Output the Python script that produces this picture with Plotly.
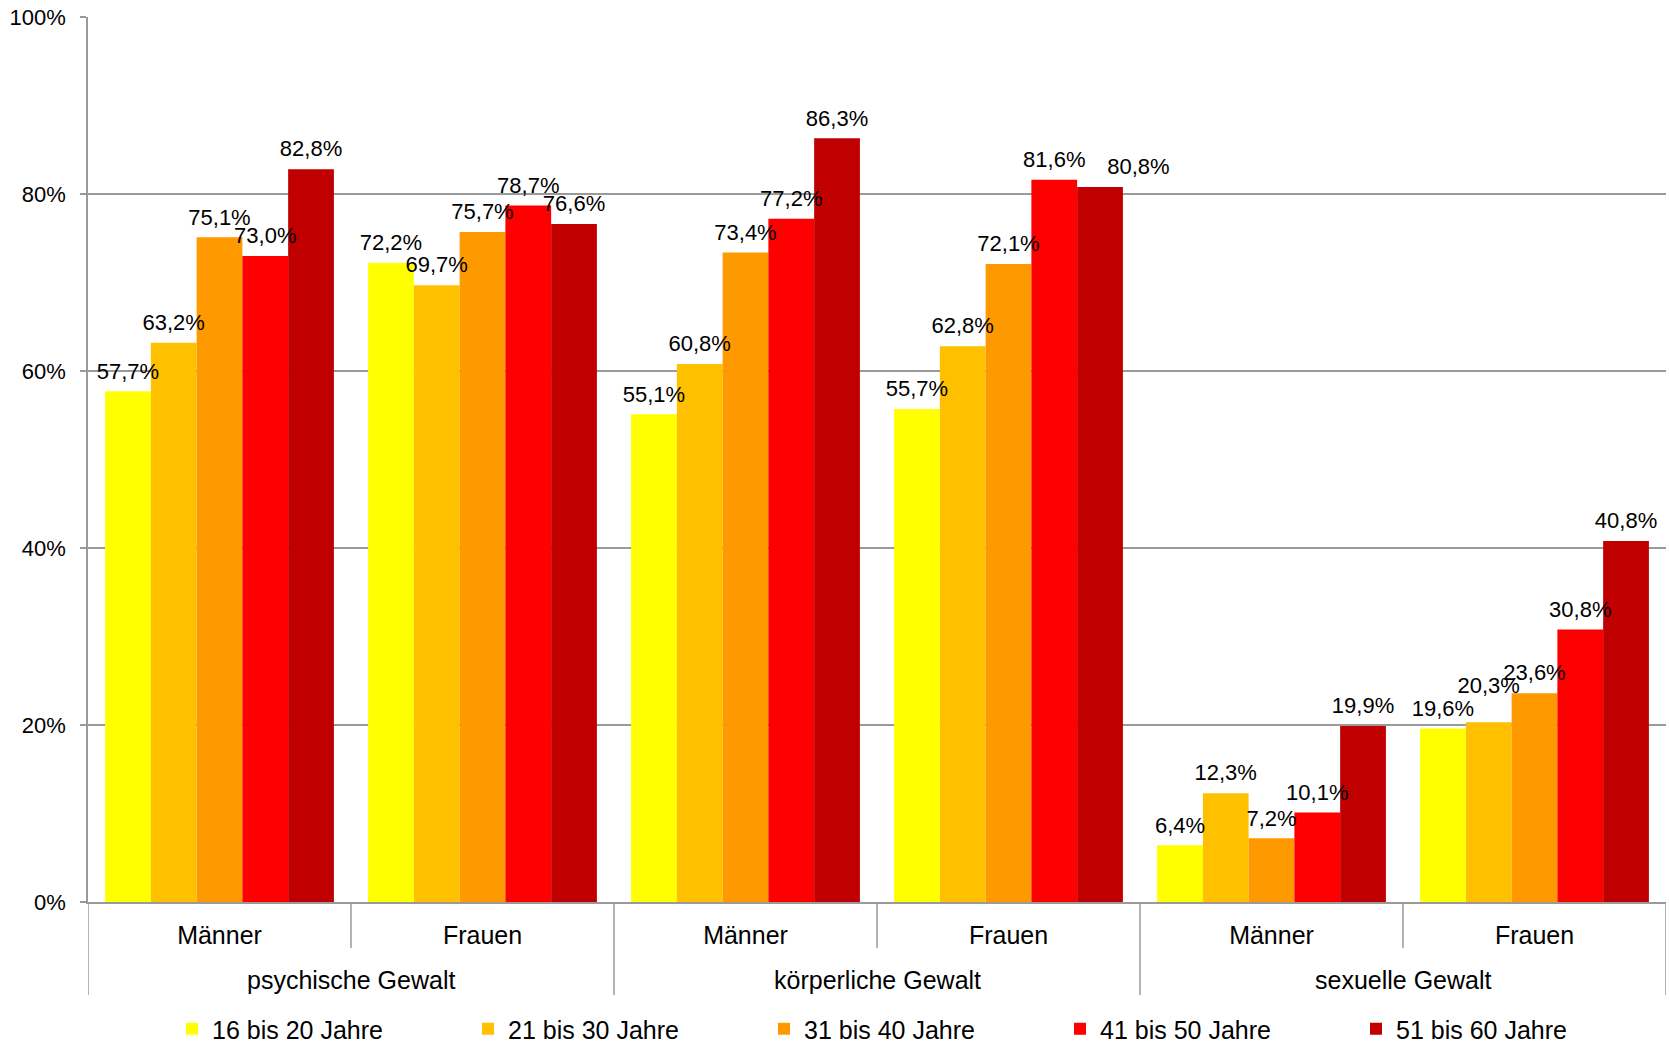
import plotly.graph_objects as go

# ---- data ----
groups = ["psychische Gewalt", "psychische Gewalt",
          "körperliche Gewalt", "körperliche Gewalt",
          "sexuelle Gewalt", "sexuelle Gewalt"]
genders = ["Männer", "Frauen", "Männer", "Frauen", "Männer", "Frauen"]

age_labels = ["16 bis 20 Jahre", "21 bis 30 Jahre", "31 bis 40 Jahre",
              "41 bis 50 Jahre", "51 bis 60 Jahre"]
age_16_20 = [57.7, 72.2, 55.1, 55.7, 6.4, 19.6]
age_21_30 = [63.2, 69.7, 60.8, 62.8, 12.3, 20.3]
age_31_40 = [75.1, 75.7, 73.4, 72.1, 7.2, 23.6]
age_41_50 = [73.0, 78.7, 77.2, 81.6, 10.1, 30.8]
age_51_60 = [82.8, 76.6, 86.3, 80.8, 19.9, 40.8]

y_ticks = [0, 20, 40, 60, 80, 100]
y_tick_text = ["0%", "20%", "40%", "60%", "80%", "100%"]

colors = ["#FFFF00", "#FFC000", "#FF9900", "#FF0000", "#C00000"]
grid_col = "#9a9a9a"
font_family = "Liberation Sans, Arial, sans-serif"

# label placement style per series (a few labels nudged to avoid neighbours)
label_pos = [
    "top center",
    "top center",
    "top center",
    "top center",
    ["top center", "top center", "top center", "top right", "top center", "top center"],
]
# invisible marker size controls the gap between bar top and its label
label_gap = [
    10,
    [10, 10, 10, 10, 10, 37],
    10,
    10,
    10,
]

x_pos = list(range(len(genders)))
series = [age_16_20, age_21_30, age_31_40, age_41_50, age_51_60]

fig = go.Figure()
for name, vals, col in zip(age_labels, series, colors):
    fig.add_bar(
        x=x_pos, y=vals, name=name,
        marker=dict(color=col, line=dict(width=0)),
        hoverinfo="name+y",
    )
# value labels (grouped scatter so they sit over their bars)
for name, vals, tp, gap in zip(age_labels, series, label_pos, label_gap):
    fig.add_scatter(
        x=x_pos, y=vals, mode="markers+text", showlegend=False,
        marker=dict(size=gap, opacity=0),
        texttemplate="%{y:.1f}%", textposition=tp,
        textfont=dict(size=22, color="black", family=font_family),
        cliponaxis=False, hoverinfo="skip",
    )

plot_h = 1044 - 17 - 142
# dividers: long ones between the violence types, short ones between genders
bounds_outer = [-0.5] + [i + 0.5 for i in range(len(groups) - 1)
                         if groups[i] != groups[i + 1]] + [len(groups) - 0.5]
bounds_inner = [i + 0.5 for i in range(len(groups) - 1) if groups[i] == groups[i + 1]]
for xb in bounds_outer:
    fig.add_shape(type="line", xref="x", yref="paper", x0=xb, x1=xb,
                  y0=0, y1=-93 / plot_h, line=dict(color=grid_col, width=1.5))
for xb in bounds_inner:
    fig.add_shape(type="line", xref="x", yref="paper", x0=xb, x1=xb,
                  y0=0, y1=-46 / plot_h, line=dict(color=grid_col, width=1.5))

# group labels
seen = []
for g in groups:
    if g not in seen:
        seen.append(g)
for g in seen:
    idx = [i for i, gg in enumerate(groups) if gg == g]
    fig.add_annotation(x=sum(idx) / len(idx), xref="x", y=0, yref="paper",
                       yshift=-78, yanchor="middle", showarrow=False, text=g,
                       font=dict(size=25, color="black", family=font_family))

fig.update_layout(
    width=1669, height=1044,
    separators=",.",
    barmode="group", bargap=0.13, bargroupgap=0,
    scattermode="group", scattergap=0.13,
    margin=dict(l=88, r=3, t=17, b=142),
    plot_bgcolor="white", paper_bgcolor="white",
    font=dict(family=font_family, size=25, color="black"),
    showlegend=True,
    legend=dict(orientation="h", xref="container", yref="container",
                x=172 / 1669, y=1 - 1029 / 1044, xanchor="left", yanchor="middle",
                entrywidth=251, entrywidthmode="pixels",
                font=dict(size=25, family=font_family)),
    yaxis=dict(range=[0, 100], tickmode="array", tickvals=y_ticks, ticktext=y_tick_text,
               showgrid=True, gridcolor=grid_col, gridwidth=1.5,
               showline=True, linecolor=grid_col, linewidth=1.5,
               ticks="outside", ticklen=6, tickcolor=grid_col, tickwidth=1.5,
               ticklabelstandoff=10,
               tickfont=dict(size=22), zeroline=False),
    xaxis=dict(range=[-0.5, len(genders) - 0.5], tickmode="array",
               tickvals=x_pos, ticktext=genders, ticks="",
               showgrid=False, zeroline=False,
               showline=True, linecolor=grid_col, linewidth=1.5,
               ticklabelstandoff=10,
               tickfont=dict(size=25)),
)

fig.write_html("out.html")
